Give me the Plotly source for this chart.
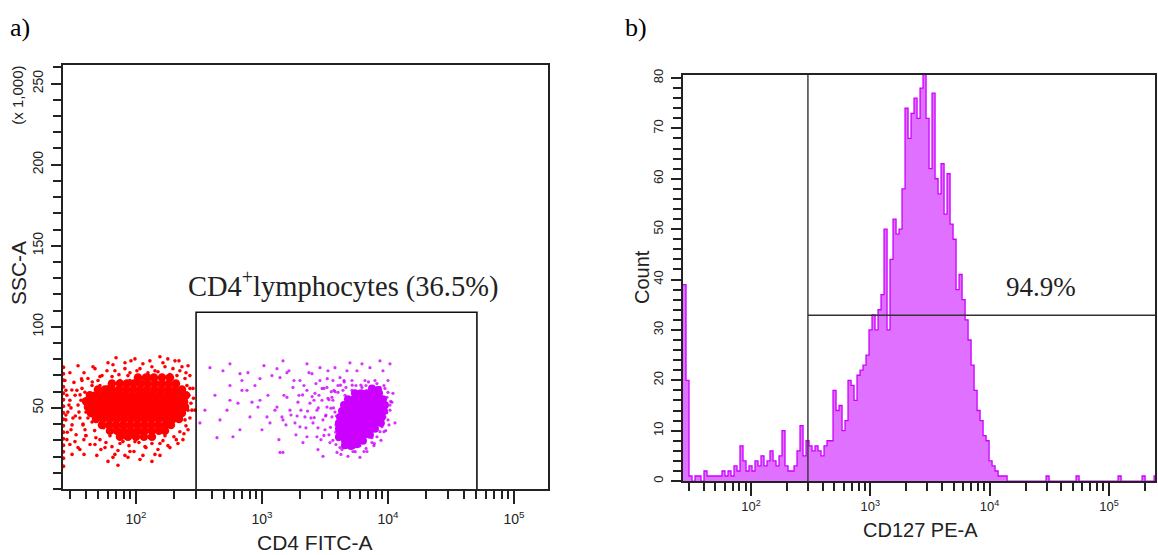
import numpy as np
import plotly.graph_objects as go

# ---------------- Panel a: CD4 FITC-A vs SSC-A (x 1,000) ----------------
# dense core of the CD4- (red) population: (FITC, SSC)
red_core = [
    (103.7, 68.7), (120.0, 68.7), (138.9, 68.7), (160.8, 68.7), (186.1, 68.7),
    (64.5, 65.0), (74.7, 65.0), (84.8, 65.0), (96.4, 65.0), (109.6, 65.0), (124.5, 65.0), (141.5, 65.0),
    (160.8, 65.0), (182.7, 65.0), (207.7, 65.0),
    (49.9, 61.4), (56.8, 61.4), (64.5, 61.4), (73.3, 61.4), (83.3, 61.4), (94.7, 61.4), (107.6, 61.4),
    (122.3, 61.4), (138.9, 61.4), (157.9, 61.4), (179.4, 61.4), (203.9, 61.4), (231.8, 61.4),
    (43.1, 57.8), (49.0, 57.8), (55.7, 57.8), (63.3, 57.8), (72.0, 57.8), (81.8, 57.8), (93.0, 57.8),
    (105.6, 57.8), (120.0, 57.8), (136.4, 57.8), (155.0, 57.8), (176.2, 57.8), (200.2, 57.8),
    (227.6, 57.8), (249.4, 57.8),
    (40.1, 54.1), (45.6, 54.1), (51.8, 54.1), (58.9, 54.1), (66.9, 54.1), (76.0, 54.1), (86.4, 54.1),
    (98.2, 54.1), (111.6, 54.1), (126.8, 54.1), (144.1, 54.1), (163.8, 54.1), (186.1, 54.1),
    (211.5, 54.1), (240.4, 54.1),
    (41.6, 50.5), (47.3, 50.5), (53.7, 50.5), (61.1, 50.5), (69.4, 50.5), (78.9, 50.5), (89.6, 50.5),
    (101.8, 50.5), (115.7, 50.5), (131.5, 50.5), (149.5, 50.5), (169.9, 50.5), (193.0, 50.5),
    (219.4, 50.5), (244.9, 50.5),
    (43.9, 46.8), (49.9, 46.8), (56.8, 46.8), (64.5, 46.8), (73.3, 46.8), (83.3, 46.8), (94.7, 46.8),
    (107.6, 46.8), (122.3, 46.8), (138.9, 46.8), (157.9, 46.8), (179.4, 46.8), (203.9, 46.8),
    (231.8, 46.8),
    (48.2, 43.2), (54.7, 43.2), (62.2, 43.2), (70.7, 43.2), (80.3, 43.2), (91.3, 43.2), (103.7, 43.2),
    (117.9, 43.2), (133.9, 43.2), (152.2, 43.2), (173.0, 43.2), (196.6, 43.2), (219.4, 43.2),
    (53.7, 39.5), (61.1, 39.5), (69.4, 39.5), (78.9, 39.5), (89.6, 39.5), (101.8, 39.5), (115.7, 39.5),
    (131.5, 39.5), (149.5, 39.5), (169.9, 39.5), (189.5, 39.5),
    (62.2, 35.9), (70.7, 35.9), (80.3, 35.9), (91.3, 35.9), (103.7, 35.9), (117.9, 35.9), (133.9, 35.9),
    (152.2, 35.9), (169.9, 35.9),
    (74.7, 32.2), (86.4, 32.2), (100.0, 32.2), (115.7, 32.2), (133.9, 32.2),
]
# scattered events of the red population
red_sparse = [
    (29.9, 71.7), (34.7, 76.0), (41.6, 68.1), (47.3, 74.2), (53.8, 69.9), (60.0, 77.8), (68.1, 72.9),
    (74.7, 66.9), (81.8, 77.8), (89.6, 71.7), (98.2, 80.2), (107.6, 74.2), (117.9, 69.3), (129, 79.0),
    (141.5, 72.9), (155, 81.5), (170, 75.4), (186, 70.5), (204, 79.0), (223, 72.9), (245, 68.1),
    (259, 76.0), (44.8, 63.8), (50.0, 66.9), (64.6, 69.3), (86.4, 69.9), (124.5, 71.7), (193, 68.1),
    (215, 64.4), (268, 69.9), (69.5, 80.9), (179, 80.2),
    (27.8, 60.8), (29.9, 54.7), (28.8, 47.4), (31.1, 39.5), (32.9, 57.8), (34.7, 51.7), (35.9, 43.8),
    (37.3, 62.0), (39.4, 36.5), (41.6, 55.9), (43.2, 48.6), (44.8, 41.3), (46.4, 59.0), (48.1, 31.6),
    (38.6, 30.4), (33.5, 33.4), (29.9, 27.4), (27.8, 42.6), (32.2, 65.7), (40.1, 47.4), (35.9, 24.3),
    (43.2, 27.4), (30.5, 50), (33, 45), (36, 58), (38, 40), (42, 52), (45, 45), (47, 36), (31, 61),
    (28.5, 35), (37, 68), (40, 33), (45, 66), (52, 40), (55, 48), (49, 57),
    (51.8, 30.4), (56.8, 25.5), (62.2, 32.8), (68.1, 21.3), (74.7, 28.0), (81.8, 31.6), (89.6, 23.1),
    (98.2, 29.2), (107.6, 18.2), (117.9, 26.1), (129, 31.6), (141.5, 21.3), (155, 28.0), (170, 32.8),
    (186, 25.5), (60, 17.0), (86.4, 19.5), (48.9, 20.7), (72, 14.6), (134, 17.0),
    (232, 59.6), (252, 53.5), (268, 62.0), (278, 48.6), (245, 42.6), (259, 36.5), (223, 35.3),
    (209, 30.4), (286, 55.9), (238, 47.4),
    (51.8, 63.8), (56.8, 60.8), (48.1, 53.5), (50, 43.8), (55.5, 37.7), (64.6, 35.3), (77.5, 34.0),
    (93, 32.8), (111.6, 34.0), (134, 35.3), (160.8, 36.5), (186, 38.9), (209, 42.6), (232, 52.3),
    (238, 58.4), (209, 63.2), (179, 66.3), (155, 68.1), (129, 68.1), (107.6, 68.1), (89.6, 66.9),
    (72, 65.7), (60, 63.2),
    (38.7, 71.7), (45.6, 75.4), (51.8, 69.3), (58.9, 72.9), (65.7, 76.6), (73.3, 70.5), (81.8, 74.2),
    (91.3, 79.0), (101.8, 72.9), (113.6, 77.2), (126.8, 69.9), (133.9, 75.4), (149.5, 72.3),
    (163.8, 77.8), (176.2, 69.3), (196.6, 74.2), (211.5, 69.9), (231.8, 75.4), (249.4, 71.7),
    (219.4, 79.0),
    (27.3, 66.9), (28.3, 57.8), (29.4, 51.7), (27.8, 45.6), (30.5, 36.5), (31.6, 43.8), (32.8, 29.2),
    (34.0, 60.8), (35.3, 47.4), (36.6, 54.7), (38.0, 39.5), (39.4, 59.6), (40.1, 32.8), (41.6, 43.8),
    (28.3, 30.4), (31.1, 21.3), (34.7, 25.5), (38.7, 21.3), (40.8, 51.7), (37.3, 66.9),
    (47.3, 27.4), (52.7, 24.3), (57.8, 28.6), (64.5, 26.1), (72.0, 23.7), (78.9, 29.2), (88.0, 26.7),
    (96.4, 23.1), (105.6, 28.6), (120.0, 25.5), (133.9, 28.0), (149.5, 24.3), (163.8, 29.8),
    (179.4, 26.7), (200.2, 32.2), (215.4, 28.0), (113.6, 20.7), (65.7, 19.5), (81.8, 20.7),
    (155.0, 20.7),
    (253.9, 63.8), (263.4, 57.8), (273.2, 52.9), (258.6, 48.6), (268.2, 43.8), (249.4, 38.9),
    (240.4, 34.0), (283.4, 62.0), (293.9, 48.6), (236.0, 30.4),
]
# events piled on the lower FITC limit
red_edge_ssc = [75, 71, 67, 63, 59, 55, 51, 47, 43, 39, 35, 31, 27, 23, 19, 14]
red_edge_fitc = 26.5

# dense core of the CD4+ (magenta) population
mag_core = [
    (5471, 59.0), (6106, 59.0), (6808, 59.0), (7603, 59.0), (8492, 59.0),
    (4816, 55.3), (5370, 55.3), (5996, 55.3), (6690, 55.3), (7465, 55.3), (8337, 55.3), (9120, 55.3),
    (4477, 51.7), (4993, 51.7), (5570, 51.7), (6218, 51.7), (6934, 51.7), (7744, 51.7), (8650, 51.7),
    (9462, 51.7),
    (4315, 48.0), (4816, 48.0), (5370, 48.0), (5996, 48.0), (6690, 48.0), (7465, 48.0), (8337, 48.0),
    (9290, 48.0),
    (4160, 44.4), (4642, 44.4), (5176, 44.4), (5775, 44.4), (6449, 44.4), (7194, 44.4), (8035, 44.4),
    (8954, 44.4),
    (4083, 40.7), (4559, 40.7), (5084, 40.7), (5672, 40.7), (6333, 40.7), (7063, 40.7), (7888, 40.7),
    (8790, 40.7),
    (4083, 37.1), (4559, 37.1), (5084, 37.1), (5672, 37.1), (6333, 37.1), (7063, 37.1), (7888, 37.1),
    (4160, 33.4), (4642, 33.4), (5176, 33.4), (5775, 33.4), (6449, 33.4), (7194, 33.4),
    (4559, 29.8), (5084, 29.8), (5672, 29.8), (6333, 29.8),
    (7465, 62.0), (8337, 61.0), (4083, 32.0), (4559, 27.0), (5084, 26.5), (5672, 27.5),
]
mag_sparse = [
    (322, 40.7), (386.7, 74.8), (439.5, 31.6), (464.2, 42.6), (490.3, 72.9), (557.2, 77.2),
    (557.2, 63.8), (588.6, 32.2), (645, 52.9), (669, 71.1), (694, 66.9), (694, 60.8), (803.2, 44.4),
    (833, 53.5), (929.6, 50.5), (964, 68.1), (964, 54.7), (1095.8, 44.4), (1157.5, 40.7),
    (1315.2, 74.2), (1315.2, 50.5), (1389.5, 68.7), (1441, 44.4), (1467.8, 79.0), (1467.8, 22.5),
    (1579, 71.7), (1579, 56.5), (1668.6, 48.6), (1762, 62.6), (1827.6, 40.7), (1930.7, 53.5),
    (2002.5, 66.9), (2115.3, 28.6), (2194.2, 44.4), (2275.6, 77.2), (2275.6, 60.8), (2404.4, 52.9),
    (2493.6, 71.1), (2539.5, 40.7), (2633.6, 59.0), (2731.8, 48.6), (2731.8, 32.2), (2782.6, 24.3),
    (2886.3, 66.9), (2886.3, 74.8), (2994, 54.7), (3049.1, 42.6), (3049.1, 20.1), (3162.3, 36.5),
    (3280.2, 62.6), (3280.2, 50.5), (3340.6, 72.9), (3465, 28.6), (3594, 56.5), (3594, 44.4),
    (3660.4, 66.9), (3797, 74.8), (3938.4, 22.5), (4159.6, 68.7), (4314.6, 24.3), (4394.3, 60.8),
    (4727.2, 72.9), (4814.3, 20.1), (4993.7, 77.8), (5179.5, 66.9), (5275.2, 23.1), (5675, 72.9),
    (5994.8, 19.5), (6218.5, 77.2), (6569.1, 66.9), (6812.9, 23.1), (7196.9, 74.8), (7465.1, 28.6),
    (7885.8, 66.9), (8180, 32.2), (8640.7, 79.0), (8640.7, 62.6), (8963, 38.3), (9127, 72.9),
    (9467, 44.4), (9820, 56.5), (10000, 66.9), (10373, 77.2), (10373, 48.6), (10957, 59.0),
    (11365, 40.7), (1389.5, 22.5), (1467.8, 42.6), (2002.5, 38.3), (2275.6, 32.2), (760.3, 60.8),
    (527.6, 48.6),
    (3660, 54.7), (3797, 47.4), (3867, 39.5), (4011, 30.4), (4160, 25.5), (4814, 26.1), (5995, 26.7),
    (7465, 31.6), (8641, 35.3), (10000, 42.6), (10373, 51.7), (10000, 59.6), (9290, 63.8),
    (7465, 63.2), (6218, 62.6), (5180, 60.8), (4559, 57.8), (4011, 59.6),
    (2500, 57), (2800, 50), (3000, 62), (3200, 45), (3400, 55), (3500, 38), (3700, 50), (3300, 68),
    (2600, 44), (3100, 33), (3800, 60), (3650, 30), (2300, 48), (2100, 58), (1900, 45), (3900, 45),
    (3850, 35), (3550, 60), (4200, 64), (4500, 66), (5200, 64), (6100, 64), (7000, 66), (8200, 60),
    (9800, 47), (9600, 36), (8800, 30), (7800, 28), (6700, 25), (5500, 23), (4400, 26), (10500, 54),
    (879.8, 63.8), (1000, 36.5), (1115.6, 57.8), (1200, 69.9), (1268, 48.6), (1364, 30.4),
    (1494, 57.8), (1550, 39.5), (1638, 72.9), (1699, 45.6), (1794, 66.9), (1861, 33.4), (1966, 57.8),
    (2039, 48.6), (2154, 63.8), (2234, 37.7), (2360, 71.7), (2448, 43.8), (2586, 54.7), (2682, 65.0),
    (2783, 37.7), (2833, 57.8), (2939, 30.4), (3104, 62.0), (3220, 45.6), (3340, 55.9), (3401, 33.4),
    (3528, 49.8), (3727, 60.8), (3866, 27.4), (4010, 63.8), (4236, 21.3), (4475, 66.9), (5371, 25.5),
    (6447, 23.1), (7739, 26.7), (9291, 35.3), (10181, 39.5), (10755, 53.5), (9467, 62.0),
    (8175, 65.0), (6687, 63.8), (5571, 63.8), (4641, 62.6), (557.2, 54.7), (668.8, 36.5),
    (423.6, 57.8), (352.8, 48.6), (1037, 76.0), (774.2, 71.7),
]
gate_a_fitc = [300, 300, 50800, 50800]
gate_a_ssc = [0, 109, 109, 0]

# ---------------- Panel b: CD127 PE-A histogram ----------------
cd127_counts = [
    39, 20, 1, 0, 1, 1, 0, 2, 1, 1,
    1, 1, 1, 2, 1, 2, 1, 3, 2, 7,
    4, 2, 3, 2, 4, 3, 5, 3, 4, 6,
    4, 3, 5, 10, 3, 2, 2, 3, 6, 11,
    5, 8, 7, 6, 7, 6, 5, 7, 8, 8,
    18, 14, 15, 10, 12, 20, 19, 16, 21, 22,
    23, 25, 30, 33, 30, 34, 37, 50, 30, 44,
    52, 49, 50, 58, 74, 68, 73, 76, 72, 78,
    81, 72, 62, 77, 60, 57, 63, 53, 61, 51,
    48, 38, 41, 36, 32, 28, 23, 18, 14, 12,
    9, 8, 4, 3, 2, 1, 1, 1,
    0, 0, 0, 0, 0, 0, 0, 0, 0, 0,
    0, 0, 0, 1, 0, 0, 0, 0, 0, 0,
    0, 0, 0, 1, 0, 0, 0, 0, 0, 0,
    0, 0, 0, 0, 0, 0, 0, 1, 0, 0,
    0, 0, 0, 0, 0, 1, 0, 0, 0, 1,
]
HIST_LOG_START = 1.43      # log10 of the lowest bin edge
HIST_LOG_BIN = 0.02515     # bin width in decades
quad_x = 300
quad_y = 32.9

# ---------------- Text ----------------
decade_vals = [100, 1000, 10000, 100000]
decade_text = ["10<sup>2</sup>", "10<sup>3</sup>", "10<sup>4</sup>", "10<sup>5</sup>"]
minor_log_vals = [m * 10 ** e for e in range(1, 6) for m in range(2, 10)]
ssc_ticks = [50, 100, 150, 200, 250]
count_ticks = [0, 10, 20, 30, 40, 50, 60, 70, 80]

SANS = "Liberation Sans, Arial, sans-serif"
SERIF = "Liberation Serif, Times New Roman, serif"
INK = "#222222"
RED = "#FF0000"
MAG = "#CC00FF"
MAG_FILL = "#E070FF"

W, H = 1158, 555
px = lambda v: v / W
py = lambda v: 1 - v / H

fig = go.Figure()

# panel a traces
fig.add_trace(go.Scatter(x=[p[0] for p in red_core], y=[p[1] for p in red_core], mode="markers",
                         marker=dict(color=RED, size=8.5, line=dict(width=0)), xaxis="x", yaxis="y"))
fig.add_trace(go.Scatter(x=[p[0] for p in red_sparse], y=[p[1] for p in red_sparse], mode="markers",
                         marker=dict(color=RED, size=3.6, line=dict(width=0)), xaxis="x", yaxis="y"))
fig.add_trace(go.Scatter(x=[red_edge_fitc] * len(red_edge_ssc), y=red_edge_ssc, mode="markers",
                         marker=dict(color=RED, size=4, line=dict(width=0)), xaxis="x", yaxis="y"))
fig.add_trace(go.Scatter(x=[p[0] for p in mag_core], y=[p[1] for p in mag_core], mode="markers",
                         marker=dict(color=MAG, size=8, line=dict(width=0)), xaxis="x", yaxis="y"))
fig.add_trace(go.Scatter(x=[p[0] for p in mag_sparse], y=[p[1] for p in mag_sparse], mode="markers",
                         marker=dict(color=MAG, size=3.2, opacity=0.8, line=dict(width=0)),
                         xaxis="x", yaxis="y"))
fig.add_trace(go.Scatter(x=gate_a_fitc, y=gate_a_ssc, mode="lines",
                         line=dict(color="#111111", width=1.6), xaxis="x", yaxis="y"))

# panel b traces
edges = 10 ** (HIST_LOG_START + HIST_LOG_BIN * np.arange(len(cd127_counts) + 1))
fig.add_trace(go.Scatter(x=edges, y=list(cd127_counts) + [cd127_counts[-1]], mode="lines",
                         line=dict(shape="hv", color=MAG, width=1.3), fill="tozeroy",
                         fillcolor=MAG_FILL, xaxis="x2", yaxis="y2"))
fig.add_trace(go.Scatter(x=[quad_x, quad_x], y=[0, 100], mode="lines",
                         line=dict(color="#333333", width=1.4), xaxis="x2", yaxis="y2"))
fig.add_trace(go.Scatter(x=[quad_x, 400000], y=[quad_y, quad_y], mode="lines",
                         line=dict(color="#333333", width=1.4), xaxis="x2", yaxis="y2"))


def log_axis(domain, rng, anchor, font_size, standoff):
    return dict(domain=domain, type="log", range=rng, anchor=anchor,
                showline=True, linecolor=INK, linewidth=1.6, mirror=True,
                showgrid=False, zeroline=False,
                ticks="outside", ticklen=13, tickwidth=1.6, tickcolor=INK,
                tickmode="array", tickvals=decade_vals, ticktext=decade_text,
                tickfont=dict(family=SANS, size=font_size, color=INK),
                ticklabelstandoff=standoff,
                minor=dict(tickmode="array", tickvals=minor_log_vals, ticks="outside",
                           ticklen=8, tickwidth=1.5, tickcolor=INK, showgrid=False))


def lin_axis(domain, rng, anchor, vals, minor_step, font_size):
    return dict(domain=domain, range=rng, anchor=anchor,
                showline=True, linecolor=INK, linewidth=1.6, mirror=True,
                showgrid=False, zeroline=False,
                ticks="outside", ticklen=10, tickwidth=1.6, tickcolor=INK,
                tickmode="array", tickvals=vals, ticktext=[str(v) for v in vals],
                tickangle=-90, tickfont=dict(family=SANS, size=font_size, color=INK),
                ticklabelstandoff=3,
                minor=dict(dtick=minor_step, tick0=0, ticks="outside", ticklen=8,
                           tickwidth=1.5, tickcolor=INK, showgrid=False))


fig.update_layout(
    width=W, height=H, margin=dict(l=0, r=0, t=0, b=0),
    paper_bgcolor="white", plot_bgcolor="white", showlegend=False,
    xaxis=log_axis([px(63), px(548)], [1.421, 5.270], "y", 14, 3),
    yaxis=lin_axis([py(490), py(60)], [0, 261.4], "x", ssc_ticks, 10, 14),
    xaxis2=log_axis([px(683), px(1155)], [1.43, 5.386], "y2", 13, 0),
    yaxis2=lin_axis([py(482), py(70)], [0, 80.6], "x2", count_ticks, 2, 13),
)

annotations = [
    dict(text="a)", x=px(20), y=py(22), font=dict(family=SERIF, size=26, color="black")),
    dict(text="b)", x=px(636), y=py(22), font=dict(family=SERIF, size=26, color="black")),
    dict(text="CD4<sup>+</sup>lymphocytes (36.5%)", x=px(343), y=py(283),
         font=dict(family=SERIF, size=28.5, color=INK)),
    dict(text="94.9%", x=px(1041), y=py(285), font=dict(family=SERIF, size=27, color=INK)),
    dict(text="SSC-A", x=px(18), y=py(271), textangle=-90, font=dict(family=SANS, size=21, color=INK)),
    dict(text="(x 1,000)", x=px(18), y=py(91), textangle=-90, font=dict(family=SANS, size=15, color=INK)),
    dict(text="CD4 FITC-A", x=px(315), y=py(544), font=dict(family=SANS, size=21, color=INK)),
    dict(text="Count", x=px(642), y=py(275), textangle=-90, font=dict(family=SANS, size=20, color=INK)),
    dict(text="CD127 PE-A", x=px(920), y=py(532), font=dict(family=SANS, size=20, color=INK)),
]
for a in annotations:
    a.update(xref="paper", yref="paper", xanchor="center", yanchor="middle", showarrow=False)
fig.update_layout(annotations=annotations)

fig.write_html("out.html", config={"displayModeBar": False})
